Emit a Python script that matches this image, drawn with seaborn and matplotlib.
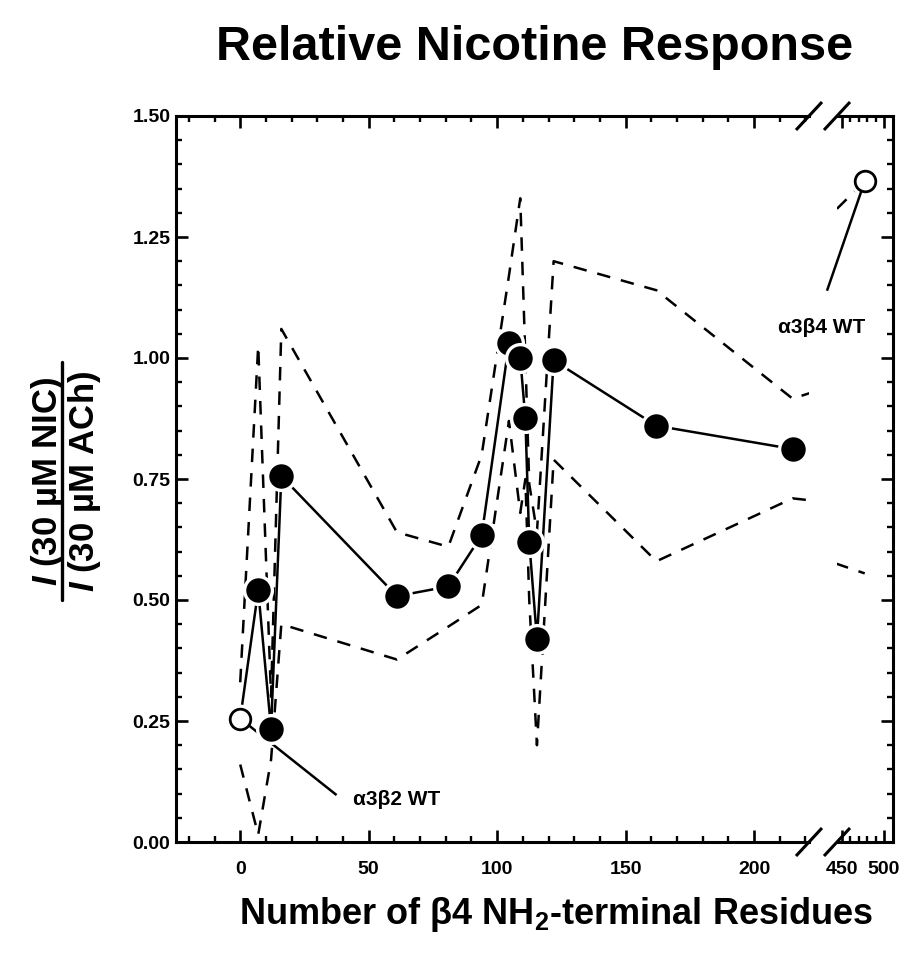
import matplotlib
matplotlib.use('Agg')
import matplotlib.pyplot as plt
from matplotlib.lines import Line2D
from matplotlib.ticker import FormatStrFormatter
import seaborn as sns
import pandas as pd
import numpy as np

# ---------------- data ----------------
residues = [0, 7, 12, 16, 61, 81, 94, 104.6, 109, 111, 112.5, 115.5, 122, 162, 215]
response = [0.255, 0.52, 0.234, 0.756, 0.508, 0.528, 0.634, 1.03, 1.0, 0.875, 0.62, 0.42, 0.995, 0.86, 0.812]
upper_band = [0.33, 1.025, 0.30, 1.06, 0.64, 0.61, 0.80, 1.17, 1.33, 1.0, 0.74, 0.64, 1.20, 1.14, 0.916]
lower_band = [0.16, 0.015, 0.17, 0.45, 0.377, 0.445, 0.49, 0.87, 0.68, 0.75, 0.50, 0.20, 0.79, 0.58, 0.71]

wt_b4_residues = 477
wt_b4_response = 1.365
wt_b4_upper = 1.365
wt_b4_lower = 0.555

left_xticks = [0, 50, 100, 150, 200]
right_xticks = [450, 500]
yticks = [0.0, 0.25, 0.5, 0.75, 1.0, 1.25, 1.5]

title_text = "Relative Nicotine Response"
xlabel_text = "Number of \u03b24 NH$_2$-terminal Residues"
ylabel_num = "$\\mathit{I}$ (30 \u00b5M NIC)"
ylabel_den = "$\\mathit{I}$ (30 \u00b5M ACh)"
label_b2 = "\u03b13\u03b22 WT"
label_b4 = "\u03b13\u03b24 WT"

# ---------------- style ----------------
sns.set_theme(style='ticks')
plt.rcParams['font.family'] = ['Liberation Sans', 'DejaVu Sans']
plt.rcParams['font.weight'] = 'bold'
plt.rcParams['text.color'] = 'black'
plt.rcParams['axes.labelcolor'] = 'black'
plt.rcParams['xtick.color'] = 'black'
plt.rcParams['ytick.color'] = 'black'
plt.rcParams['axes.edgecolor'] = 'black'
plt.rcParams['mathtext.fontset'] = 'custom'
plt.rcParams['mathtext.rm'] = 'Liberation Sans:bold'
plt.rcParams['mathtext.it'] = 'Liberation Sans:italic:bold'
plt.rcParams['mathtext.bf'] = 'Liberation Sans:bold'
plt.rcParams['mathtext.default'] = 'regular'

W, H = 917, 955
fig = plt.figure(figsize=(W / 100, H / 100), dpi=100)
fig.patch.set_facecolor('white')

def fx(px):
    return px / W

def fy(py):
    return 1 - py / H

ax1 = fig.add_axes([fx(176), fy(842), fx(809) - fx(176), fy(116) - fy(842)])
ax2 = fig.add_axes([fx(837), fy(842), fx(893) - fx(837), fy(116) - fy(842)])

df_main = pd.DataFrame({'residues': residues, 'response': response})
df_band = pd.DataFrame({'residues': residues + [wt_b4_residues],
                        'upper': upper_band + [wt_b4_upper],
                        'lower': lower_band + [wt_b4_lower]})

LW = 1.8
dash = (0, (5.4, 4.4))

for ax in (ax1, ax2):
    ax.set_facecolor('white')
    sns.lineplot(data=df_band, x='residues', y='upper', ax=ax, color='black', linewidth=LW,
                 linestyle=dash, estimator=None, sort=False, errorbar=None, zorder=2)
    sns.lineplot(data=df_band, x='residues', y='lower', ax=ax, color='black', linewidth=LW,
                 linestyle=dash, estimator=None, sort=False, errorbar=None, zorder=2)

sns.lineplot(data=df_main, x='residues', y='response', ax=ax1, color='black', linewidth=LW,
             estimator=None, sort=False, errorbar=None, zorder=3)

# filled markers (white halo)
sns.scatterplot(data=df_main.iloc[1:], x='residues', y='response', ax=ax1, color='black',
                s=400, edgecolor='white', linewidth=2.4, zorder=6)

# open markers (wild types)
def open_marker(ax, x, y):
    sns.scatterplot(x=[x], y=[y], ax=ax, color='white', s=460, linewidth=0, zorder=4)
    sns.scatterplot(x=[x], y=[y], ax=ax, color='white', edgecolor='black', s=220,
                    linewidth=2.0, zorder=6)

open_marker(ax1, residues[0], response[0])
open_marker(ax2, wt_b4_residues, wt_b4_response)

# annotation leader lines and labels
ax1.plot([residues[0], 37.5], [response[0], 0.097], color='black', lw=LW, zorder=5,
         solid_capstyle='butt')
ax1.text(44.0, 0.088, label_b2, ha='left', va='center', fontsize=15, fontweight='bold')
ax2.plot([wt_b4_residues, 432.1], [wt_b4_response, 1.139], color='black', lw=LW, zorder=5,
         clip_on=False, solid_capstyle='butt')
ax2.text(426.2, 1.062, label_b4, ha='center', va='center', fontsize=15, fontweight='bold',
         clip_on=False)

# axes limits and ticks
ax1.set_xlim(-25, 221.4)
ax2.set_xlim(444, 510.7)
for ax in (ax1, ax2):
    ax.set_ylim(0, 1.5)
    ax.set_xlabel('')
    ax.set_ylabel('')
    for sp in ax.spines.values():
        sp.set_linewidth(2.2)
        sp.set_color('black')

ax1.spines['right'].set_visible(False)
ax2.spines['left'].set_visible(False)

ax1.set_xticks(left_xticks)
ax1.set_xticks(np.arange(-20, 221, 10), minor=True)
ax1.set_yticks(yticks)
ax1.set_yticks(np.arange(0, 1.501, 0.05), minor=True)
ax1.yaxis.set_major_formatter(FormatStrFormatter('%.2f'))
ax1.tick_params(which='both', direction='in', top=True, bottom=True, left=True, right=False,
                labelsize=14, pad=4, colors='black')
ax1.tick_params(axis='x', which='both', pad=14)
ax1.tick_params(which='major', length=8.5, width=1.9)
ax1.tick_params(which='minor', length=4.5, width=1.7)

ax2.set_xticks(right_xticks)
ax2.set_xticks([460, 470, 480, 490], minor=True)
ax2.set_yticks(yticks)
ax2.set_yticks(np.arange(0, 1.501, 0.05), minor=True)
ax2.tick_params(which='both', direction='in', top=True, bottom=True, left=False, right=True,
                labelleft=False, labelright=False, labelsize=14, colors='black')
ax2.tick_params(axis='x', which='both', pad=14)
ax2.tick_params(which='major', length=8.5, width=1.9)
ax2.tick_params(which='minor', length=4.5, width=1.7)

for ax in (ax1, ax2):
    for lab in ax.get_xticklabels() + ax.get_yticklabels():
        lab.set_fontweight('bold')
        lab.set_color('black')

# axis break marks
for cy in (116, 842):
    for cx in (809, 837):
        fig.add_artist(Line2D([fx(cx - 13), fx(cx + 13)], [fy(cy + 14), fy(cy - 14)],
                              color='black', lw=2.2, solid_capstyle='butt'))

# title and axis labels
fig.text(fx(535), fy(60), title_text, ha='center', va='baseline', fontsize=35,
         fontweight='bold', color='black')
fig.text(fx(556), fy(924), xlabel_text, ha='center', va='baseline', fontsize=26,
         fontweight='bold', color='black')
fig.text(fx(57), fy(481), ylabel_num, rotation=90, rotation_mode='anchor', ha='center',
         va='baseline', fontsize=25, fontweight='bold', color='black')
fig.text(fx(94), fy(481), ylabel_den, rotation=90, rotation_mode='anchor', ha='center',
         va='baseline', fontsize=25, fontweight='bold', color='black')
fig.add_artist(Line2D([fx(62), fx(62)], [fy(362), fy(600)], color='black', lw=2.4))

fig.savefig('out.png', dpi=100, facecolor='white')
